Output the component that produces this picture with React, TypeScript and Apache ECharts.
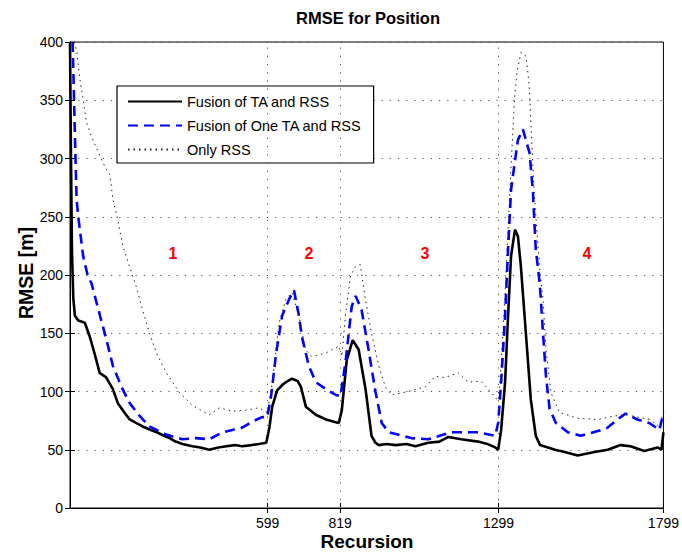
import React, { useEffect, useRef } from "react";
import * as echarts from "echarts";

const xTicks = [599, 819, 1299, 1799];
const seriesNames = ["Fusion of TA and RSS", "Fusion of One TA and RSS", "Only RSS"];
const regionLabels = ["1", "2", "3", "4"];

const fusionX = [0, 3, 6, 10, 15, 25, 45, 60, 75, 90, 110, 130, 145, 165, 181, 200, 220, 245, 263, 285, 302, 320, 341, 371, 395, 422, 450, 474, 500, 522, 550, 573, 595, 605, 613, 628, 645, 655, 673, 690, 700, 715, 745, 776, 800, 815, 824, 839, 857, 875, 896, 914, 926, 936, 960, 987, 1020, 1047, 1086, 1120, 1147, 1186, 1237, 1265, 1289, 1298, 1307, 1319, 1328, 1337, 1349, 1358, 1367, 1382, 1397, 1412, 1425, 1470, 1500, 1539, 1590, 1630, 1669, 1699, 1741, 1781, 1793, 1799];
const fusionY = [400, 300, 220, 180, 165, 161, 159, 147, 132, 116, 112, 102, 90, 82, 76, 73, 70, 67, 65, 62, 60, 57, 55, 53, 52, 50, 52, 53, 54, 53, 54, 55, 56, 70, 87, 101, 106, 108, 111, 109, 104, 87, 80, 76, 74, 73, 84, 127, 144, 136, 102, 62, 56, 54, 55, 54, 55, 53, 56, 57, 61, 59, 57, 55, 52, 50, 67, 108, 165, 216, 239, 233, 207, 150, 93, 62, 54, 50, 48, 45, 48, 50, 54, 53, 49, 52, 50, 65];

const oneTaX = [8, 15, 20, 25, 40, 54, 65, 91, 111, 130, 156, 181, 211, 241, 292, 341, 382, 422, 462, 492, 522, 552, 582, 598, 610, 625, 643, 664, 679, 694, 703, 724, 745, 776, 806, 820, 836, 854, 866, 884, 905, 926, 945, 966, 1035, 1086, 1156, 1237, 1289, 1298, 1307, 1319, 1328, 1337, 1348, 1358, 1373, 1393, 1403, 1412, 1424, 1434, 1443, 1454, 1473, 1509, 1548, 1600, 1630, 1660, 1684, 1720, 1756, 1787, 1799];
const oneTaY = [400, 319, 265, 250, 216, 199, 193, 165, 144, 122, 104, 90, 79, 70, 63, 59, 60, 59, 65, 67, 69, 74, 78, 78, 97, 133, 165, 179, 187, 165, 147, 122, 108, 102, 97, 96, 127, 173, 182, 170, 136, 100, 73, 65, 60, 59, 65, 65, 62, 73, 108, 165, 222, 273, 296, 316, 325, 305, 273, 222, 193, 150, 113, 85, 73, 65, 62, 66, 69, 76, 81, 76, 73, 67, 82];

const rssX = [12, 20, 30, 40, 50, 65, 91, 106, 121, 130, 145, 160, 181, 201, 220, 241, 262, 292, 332, 371, 422, 453, 492, 533, 573, 598, 613, 634, 654, 673, 694, 714, 733, 775, 815, 824, 835, 850, 865, 880, 895, 914, 936, 956, 975, 1026, 1077, 1107, 1137, 1177, 1207, 1246, 1277, 1298, 1307, 1318, 1328, 1337, 1348, 1355, 1367, 1382, 1388, 1393, 1397, 1403, 1408, 1415, 1424, 1434, 1443, 1458, 1484, 1518, 1539, 1600, 1650, 1690, 1720, 1758, 1786, 1799];
const rssY = [400, 393, 368, 350, 331, 319, 302, 293, 286, 265, 247, 225, 207, 190, 170, 150, 133, 116, 99, 88, 80, 86, 83, 84, 86, 82, 107, 159, 179, 185, 165, 136, 130, 133, 139, 130, 165, 199, 207, 209, 180, 150, 122, 104, 97, 100, 104, 113, 112, 116, 108, 109, 99, 92, 122, 179, 239, 293, 353, 374, 391, 388, 374, 359, 331, 296, 268, 239, 205, 179, 136, 99, 82, 79, 77, 76, 79, 80, 78, 76, 70, 82];

const FONT = "'Liberation Sans', Arial, Helvetica, sans-serif";
const zip = (xs: number[], ys: number[]) => xs.map((x, i) => [x, ys[i]]);

export default function App() {
  const ref = useRef<HTMLDivElement>(null);
  useEffect(() => {
    const chart = echarts.init(ref.current!, null, { renderer: "svg" });
    const gridDot = { color: "#555", width: 1, type: [1.2, 7] as any };
    const regionPos = [173, 309, 425, 587];
    chart.setOption({
      animation: false,
      backgroundColor: "#fff",
      textStyle: { fontFamily: FONT },
      grid: { left: 70, right: 16, top: 42, bottom: 44, show: true, borderColor: "#000", borderWidth: 1, backgroundColor: "#fff" },
      legend: {
        orient: "vertical",
        left: 117,
        top: 86,
        padding: [8, 12, 6, 10],
        itemWidth: 54,
        itemHeight: 14,
        itemGap: 9,
        borderColor: "#000",
        borderWidth: 1.2,
        backgroundColor: "#fff",
        itemStyle: { opacity: 0 },
        textStyle: { fontSize: 14.5, fontFamily: FONT, color: "#000" },
        data: seriesNames,
      },
      xAxis: [
        {
          type: "value",
          min: 0,
          max: 1799,
          axisLine: { show: true, lineStyle: { color: "#000", width: 1 } },
          axisTick: { show: true, inside: true, length: 5, customValues: xTicks, lineStyle: { color: "#000" } },
          axisLabel: { customValues: xTicks, fontSize: 14, color: "#000", margin: 8, fontFamily: FONT, formatter: (v: number) => String(v) },
          splitLine: { show: false },
        },
        {
          type: "value",
          position: "top",
          min: 0,
          max: 1799,
          axisLine: { show: true, lineStyle: { color: "#000", width: 1 } },
          axisTick: { show: true, inside: true, length: 5, customValues: xTicks, lineStyle: { color: "#000" } },
          axisLabel: { show: false },
          splitLine: { show: false },
        },
      ],
      yAxis: [
        {
          type: "value",
          min: 0,
          max: 400,
          interval: 50,
          axisLine: { show: true, lineStyle: { color: "#000", width: 1 } },
          axisTick: { show: true, inside: true, length: 5, lineStyle: { color: "#000" } },
          axisLabel: { fontSize: 14, color: "#000", margin: 7, fontFamily: FONT },
          splitLine: { show: true, lineStyle: gridDot },
        },
        {
          type: "value",
          position: "right",
          min: 0,
          max: 400,
          interval: 50,
          axisLine: { show: true, lineStyle: { color: "#000", width: 1 } },
          axisTick: { show: true, inside: true, length: 5, lineStyle: { color: "#000" } },
          axisLabel: { show: false },
          splitLine: { show: false },
        },
      ],
      series: [
        {
          type: "line",
          name: "vgrid",
          data: [],
          z: 1,
          silent: true,
          markLine: {
            silent: true,
            symbol: "none",
            label: { show: false },
            lineStyle: gridDot,
            data: [{ xAxis: 599 }, { xAxis: 819 }, { xAxis: 1299 }],
          },
        },
        {
          type: "line",
          name: seriesNames[0],
          data: zip(fusionX, fusionY),
          showSymbol: false,
          symbol: "none",
          z: 3,
          lineStyle: { color: "#000", width: 2.6 },
          itemStyle: { color: "#000" },
        },
        {
          type: "line",
          name: seriesNames[1],
          data: zip(oneTaX, oneTaY),
          showSymbol: false,
          symbol: "none",
          z: 4,
          lineStyle: { color: "#0000ff", width: 2.6, type: [10, 6] },
          itemStyle: { color: "#0000ff" },
        },
        {
          type: "line",
          name: seriesNames[2],
          data: zip(rssX, rssY),
          showSymbol: false,
          symbol: "none",
          z: 5,
          lineStyle: { color: "#222", width: 1, type: [1.5, 4] },
          itemStyle: { color: "#222" },
        },
      ],
      graphic: [
        {
          type: "text",
          x: 368,
          y: 18,
          style: { text: "RMSE for Position", textAlign: "center", textVerticalAlign: "middle", fontSize: 16.5, fontWeight: "bold", fontFamily: FONT, fill: "#000" },
        },
        {
          type: "text",
          x: 367,
          y: 541,
          style: { text: "Recursion", textAlign: "center", textVerticalAlign: "middle", fontSize: 19, fontWeight: "bold", fontFamily: FONT, fill: "#000" },
        },
        {
          type: "text",
          x: 26,
          y: 273,
          rotation: Math.PI / 2,
          style: { text: "RMSE [m]", textAlign: "center", textVerticalAlign: "middle", fontSize: 19.5, fontWeight: "bold", fontFamily: FONT, fill: "#000" },
        },
        ...regionLabels.map((t, i) => ({
          type: "text",
          x: regionPos[i],
          y: 253,
          z: 10,
          style: { text: t, textAlign: "center", textVerticalAlign: "middle", fontSize: 16, fontWeight: "bold", fontFamily: FONT, fill: "#ff0000" },
        })),
      ],
    });
    return () => chart.dispose();
  }, []);
  return <div ref={ref} style={{ position: "fixed", left: 0, top: 0, width: 682, height: 552 }} />;
}
